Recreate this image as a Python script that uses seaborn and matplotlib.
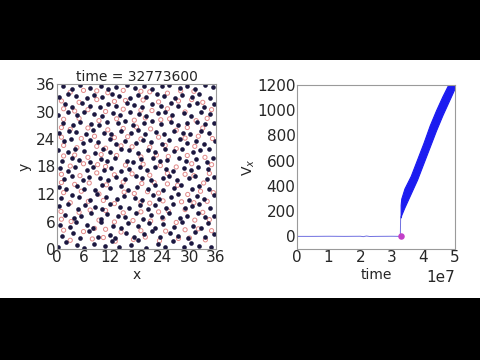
import matplotlib
matplotlib.use("Agg")
import matplotlib.pyplot as plt
import seaborn as sns
import numpy as np
from matplotlib.patches import Rectangle

# ---------------- data: particle configuration (left panel) ----------------
title_text = "time = 32773600"
box_ticks = [0, 6, 12, 18, 24, 30, 36]

dark_rows_x = [
    [0.3, 2.1, 4.6, 6.0, 8.3, 10.9, 12.4, 14.0, 16.7, 18.4, 20.1, 22.9, 24.5, 26.2, 28.8, 30.3, 32.2, 34.9],
    [1.2, 3.6, 5.1, 7.3, 9.2, 11.9, 13.2, 15.6, 17.4, 19.8, 21.5, 23.3, 25.6, 27.4, 29.7, 31.3, 33.6, 35.5],
    [0.6, 2.9, 4.3, 6.8, 8.1, 10.0, 12.7, 14.5, 16.0, 18.3, 20.9, 22.3, 24.0, 26.5, 28.2, 30.8, 32.5, 34.3],
    [1.7, 3.9, 5.5, 7.6, 9.9, 11.3, 13.8, 15.3, 17.8, 19.4, 21.3, 23.8, 25.3, 27.9, 29.5, 31.9, 33.4, 35.6],
    [0.4, 2.4, 4.8, 6.3, 8.6, 10.2, 12.0, 14.3, 16.4, 18.9, 20.5, 22.2, 24.6, 26.3, 28.9, 30.5, 32.1, 34.6],
    [1.0, 3.3, 4.9, 7.5, 9.0, 11.2, 13.6, 15.2, 17.7, 19.3, 21.7, 23.1, 25.7, 27.3, 29.9, 31.6, 33.3, 35.6],
    [0.4, 2.0, 4.6, 6.1, 8.7, 10.2, 11.9, 14.6, 16.0, 18.2, 20.7, 22.3, 24.0, 26.6, 28.1, 30.6, 32.2, 34.5],
    [1.6, 3.3, 5.9, 7.3, 9.8, 11.6, 13.4, 15.4, 17.9, 19.3, 21.2, 23.9, 25.4, 27.2, 29.8, 31.3, 33.9, 35.5],
    [0.6, 2.6, 4.1, 6.7, 8.2, 10.6, 12.2, 14.5, 16.3, 18.7, 20.4, 22.1, 24.7, 26.3, 28.8, 30.3, 32.0, 34.3],
    [1.2, 3.5, 5.0, 7.4, 9.9, 11.3, 13.2, 15.8, 17.3, 19.1, 21.8, 23.3, 25.0, 27.6, 29.2, 31.5, 33.9, 35.4],
    [0.3, 2.4, 4.0, 6.2, 8.6, 10.4, 12.1, 14.5, 16.2, 18.4, 20.5, 22.1, 24.4, 26.6, 28.2, 30.7, 32.3, 34.5],
    [1.5, 3.2, 5.8, 7.4, 9.3, 11.9, 13.4, 15.3, 17.8, 19.5, 21.3, 23.7, 25.3, 27.9, 29.5, 31.4, 33.2, 35.7],
    [0.5, 2.7, 4.3, 6.5, 8.2, 10.7, 12.3, 14.5, 16.7, 18.3, 20.0, 22.4, 24.2, 26.5, 28.6, 30.2, 32.6, 34.4],
    [1.4, 3.6, 5.3, 7.8, 9.4, 11.3, 13.8, 15.5, 17.3, 19.7, 21.4, 23.6, 25.9, 27.4, 29.5, 31.8, 33.4, 35.6],
    [0.3, 2.4, 4.6, 6.2, 8.4, 10.1, 12.6, 14.2, 16.5, 18.6, 20.2, 22.8, 24.4, 26.1, 28.7, 30.3, 32.5, 34.7],
    [1.7, 3.3, 5.7, 7.4, 9.7, 11.5, 13.3, 15.8, 17.5, 19.3, 21.6, 23.5, 25.7, 27.3, 29.9, 31.6, 33.3, 35.5],
    [0.5, 2.6, 4.2, 6.7, 8.4, 10.1, 12.4, 14.1, 16.6, 18.4, 20.1, 22.6, 24.2, 26.7, 28.3, 30.5, 32.1, 34.6],
    [1.4, 3.5, 5.3, 7.5, 9.9, 11.6, 13.4, 15.8, 17.6, 19.6, 21.5, 23.8, 25.3, 27.8, 29.5, 31.2, 33.5, 35.3],
]
dark_rows_y = [
    [0.5, 1.6, 0.9, 0.3, 1.2, 0.6, 1.8, 0.4, 0.8, 1.9, 0.3, 1.0, 0.5, 1.7, 0.4, 1.3, 0.7, 0.4],
    [2.8, 3.4, 2.4, 3.9, 2.6, 3.1, 2.5, 3.6, 2.7, 3.2, 4.0, 2.6, 3.5, 2.9, 2.5, 3.8, 2.6, 3.3],
    [5.2, 4.7, 5.9, 5.3, 4.6, 5.8, 5.0, 4.5, 5.6, 5.1, 5.7, 4.6, 5.4, 4.9, 5.9, 5.0, 4.6, 5.6],
    [7.5, 6.8, 7.3, 7.9, 6.6, 7.6, 7.1, 6.9, 7.8, 6.5, 7.4, 7.0, 7.9, 6.7, 7.2, 7.8, 6.9, 7.1],
    [9.4, 9.9, 8.8, 9.6, 9.1, 8.7, 9.8, 9.2, 8.9, 9.7, 8.8, 9.5, 9.0, 9.9, 8.9, 9.4, 9.9, 9.0],
    [11.1, 11.7, 11.4, 10.8, 11.9, 11.3, 10.9, 11.6, 11.2, 10.7, 11.8, 11.0, 11.4, 11.9, 10.8, 11.5, 11.0, 11.8],
    [13.6, 13.0, 13.8, 13.2, 12.9, 13.9, 13.3, 13.8, 12.9, 13.5, 13.1, 13.9, 12.8, 13.4, 13.9, 13.0, 13.7, 13.2],
    [15.3, 15.9, 15.1, 15.7, 15.4, 15.0, 15.8, 15.2, 15.9, 15.5, 15.0, 15.6, 15.9, 15.1, 15.6, 15.9, 15.2, 15.7],
    [17.6, 17.1, 17.9, 17.3, 17.8, 17.2, 17.7, 17.0, 17.5, 17.9, 17.2, 17.8, 17.4, 17.0, 17.7, 17.3, 17.9, 17.5],
    [19.2, 19.8, 19.5, 18.9, 19.7, 19.2, 19.9, 19.3, 18.9, 19.6, 19.9, 19.2, 19.5, 19.9, 19.1, 19.6, 19.0, 19.8],
    [21.6, 21.1, 21.9, 21.4, 21.0, 21.8, 21.2, 21.9, 21.5, 21.0, 21.6, 21.2, 21.9, 21.3, 21.8, 21.1, 21.5, 21.9],
    [23.5, 23.9, 23.1, 23.7, 23.3, 23.9, 23.0, 23.6, 23.2, 23.8, 23.4, 23.0, 23.7, 23.9, 23.2, 23.6, 23.0, 23.5],
    [25.3, 25.8, 25.5, 25.1, 25.9, 25.4, 25.0, 25.7, 25.3, 25.9, 25.1, 25.6, 25.2, 25.8, 25.4, 25.0, 25.7, 25.3],
    [27.6, 27.1, 27.8, 27.3, 27.0, 27.7, 27.4, 27.9, 27.1, 27.5, 27.9, 27.2, 27.7, 27.0, 27.6, 27.8, 27.2, 27.5],
    [29.2, 29.8, 29.3, 29.9, 29.5, 29.0, 29.7, 29.2, 29.8, 29.4, 29.0, 29.6, 29.9, 29.3, 29.7, 29.1, 29.8, 29.4],
    [31.6, 31.0, 31.8, 31.3, 30.9, 31.7, 31.2, 31.9, 31.4, 30.9, 31.6, 31.2, 31.9, 31.1, 31.5, 31.8, 31.0, 31.6],
    [33.2, 33.8, 33.4, 32.9, 33.7, 33.1, 33.9, 33.3, 32.9, 33.6, 33.2, 33.9, 33.4, 33.0, 33.7, 33.2, 33.8, 33.0],
    [35.5, 35.0, 35.7, 35.2, 35.6, 34.9, 35.4, 35.8, 35.1, 35.6, 35.0, 35.5, 35.8, 35.2, 35.6, 35.0, 35.7, 35.3],
]

pink_rows_x = [
    [3.0, 8.0, 10.5, 13.2, 17.3, 20.0, 23.2, 27.5, 30.0, 33.6],
    [1.5, 6.0, 8.5, 11.0, 14.5, 19.0, 24.6, 29.0, 32.0, 35.0],
    [1.0, 3.2, 9.5, 13.0, 17.2, 21.2, 24.0, 27.0, 31.2, 34.5],
    [0.9, 5.0, 7.5, 11.0, 15.0, 19.0, 23.0, 25.2, 29.0, 33.0],
    [3.0, 7.1, 10.5, 13.0, 19.0, 21.0, 24.0, 28.2, 31.0, 34.0],
    [1.5, 5.5, 9.5, 15.2, 17.5, 20.5, 23.0, 29.6, 32.5, 35.4],
    [1.0, 4.0, 7.3, 11.2, 15.0, 19.2, 22.0, 25.0, 27.3, 33.2],
    [1.0, 5.2, 9.0, 13.0, 17.0, 21.0, 25.0, 29.0, 31.0, 34.5],
    [3.0, 6.0, 9.2, 11.0, 15.5, 19.5, 23.4, 27.0, 30.5, 35.0],
    [1.5, 4.0, 7.0, 10.0, 13.5, 19.0, 22.5, 25.2, 29.5, 33.5],
    [1.5, 4.5, 9.0, 11.0, 14.5, 17.0, 21.0, 24.5, 27.0, 31.2],
    [1.0, 5.5, 8.5, 13.0, 16.0, 19.0, 23.0, 29.0, 32.0, 35.2],
    [1.0, 3.0, 7.0, 11.5, 15.0, 18.0, 21.2, 27.0, 29.5, 33.0],
    [1.5, 5.0, 9.5, 13.5, 17.5, 20.0, 23.5, 25.5, 31.5, 34.0],
    [1.5, 4.0, 7.0, 11.0, 15.0, 19.0, 21.5, 25.0, 29.0, 35.0],
    [1.0, 5.0, 9.0, 13.0, 15.5, 19.5, 23.0, 27.5, 30.5, 33.0],
    [3.0, 6.0, 9.0, 11.5, 15.0, 19.0, 21.0, 25.0, 28.0, 31.0],
]
pink_rows_y = [
    [1.9, 2.2, 2.5, 1.7, 2.1, 2.6, 1.8, 2.3, 2.4, 2.0],
    [4.1, 3.8, 4.5, 4.3, 3.7, 4.0, 3.9, 4.2, 4.4, 4.0],
    [6.5, 6.0, 6.3, 5.9, 6.2, 6.1, 6.6, 5.8, 6.3, 6.4],
    [8.2, 8.0, 8.5, 8.4, 7.9, 8.1, 8.1, 8.3, 8.6, 8.0],
    [10.1, 10.4, 10.6, 9.9, 10.2, 10.0, 10.5, 10.3, 10.1, 10.4],
    [12.3, 12.6, 12.0, 12.4, 12.1, 12.5, 12.2, 11.9, 12.6, 12.3],
    [14.5, 14.1, 14.4, 14.0, 14.6, 14.3, 14.5, 14.2, 13.9, 14.4],
    [16.3, 16.0, 16.6, 16.2, 16.4, 16.1, 16.5, 16.3, 16.0, 16.5],
    [18.1, 18.6, 18.4, 18.0, 18.3, 18.5, 18.2, 17.9, 18.6, 18.4],
    [20.3, 20.5, 20.0, 20.6, 20.4, 20.1, 20.5, 20.2, 20.4, 20.0],
    [22.6, 22.1, 22.4, 22.0, 22.5, 22.3, 22.2, 22.6, 21.9, 22.4],
    [24.4, 24.1, 24.6, 24.3, 24.5, 24.0, 24.4, 24.2, 24.6, 24.1],
    [26.5, 26.1, 26.4, 26.0, 26.3, 26.6, 26.2, 25.9, 26.5, 26.4],
    [28.3, 28.5, 28.0, 28.4, 28.1, 28.6, 28.2, 28.4, 28.0, 28.5],
    [30.6, 30.1, 30.4, 30.0, 30.5, 30.3, 30.2, 30.6, 29.9, 30.4],
    [32.3, 32.0, 32.6, 32.2, 32.4, 32.5, 32.1, 32.3, 32.6, 32.0],
    [34.2, 34.6, 34.5, 34.1, 34.6, 34.4, 34.3, 34.0, 34.5, 34.4],
]

# ---------------- data: V_x vs time (right panel) ----------------
flat_t = [0.0, 0.5e7, 1.0e7, 1.5e7, 2.0e7, 2.1e7, 2.2e7, 2.3e7, 2.5e7, 3.0e7, 3.27e7, 3.28e7]
flat_v = [0, 0, 1, 0, 1, -2, 3, -1, 0, 1, 0, 160]
band_t  = [3.28e7, 3.3e7, 3.4e7, 3.6e7, 3.8e7, 4.0e7, 4.2e7, 4.4e7, 4.6e7, 4.8e7, 5.0e7]
band_hi = [250, 300, 380, 480, 610, 740, 880, 1000, 1110, 1210, 1300]
band_lo = [150, 170, 230, 340, 450, 580, 710, 840, 960, 1070, 1180]
marker_t = [3.27736e7]
marker_v = [0]
time_ticks = [0, 1e7, 2e7, 3e7, 4e7, 5e7]
v_ticks = [0, 200, 400, 600, 800, 1000, 1200]

# ---------------- figure ----------------
sns.set_theme(style="white")
plt.rcParams["font.family"] = ["DejaVu Sans"]
plt.rcParams["axes.edgecolor"] = "#9a9a9a"
plt.rcParams["axes.linewidth"] = 0.8
plt.rcParams["text.color"] = "#262626"

fig = plt.figure(figsize=(4.8, 3.6), dpi=100, facecolor="black")
bg = Rectangle((0, (360 - 298) / 360), 1, (298 - 60) / 360,
               transform=fig.transFigure, facecolor="white",
               edgecolor="none", zorder=-10)
fig.patches.append(bg)

ax1 = fig.add_axes([57 / 480, (360 - 249) / 360, 159 / 480, 165 / 360])
ax2 = fig.add_axes([297 / 480, (360 - 249) / 360, 158 / 480, 164 / 360])
ax1.set_zorder(1)
ax2.set_zorder(1)

dark_x = [v for r in dark_rows_x for v in r]
dark_y = [v for r in dark_rows_y for v in r]
pink_x = [v for r in pink_rows_x for v in r]
pink_y = [v for r in pink_rows_y for v in r]

sns.scatterplot(x=pink_x, y=pink_y, ax=ax1, s=9, marker="o",
                facecolor="none", edgecolor="#dc7474", linewidth=0.7, alpha=0.85)
sns.scatterplot(x=dark_x, y=dark_y, ax=ax1, s=11, color="#1b1740",
                linewidth=0)
ax1.set_xlim(0, 36)
ax1.set_ylim(0, 36)
ax1.set_xticks(box_ticks)
ax1.set_yticks(box_ticks)
ax1.set_xlabel("x", fontsize=10, labelpad=2)
ax1.set_ylabel("y", fontsize=10, labelpad=3)
ax1.set_title(title_text, fontsize=10, pad=2)

sns.lineplot(x=flat_t, y=flat_v, ax=ax2, color="#6f6fe0", linewidth=0.7,
             sort=False, estimator=None)
ax2.fill_between(band_t, band_lo, band_hi, color="#1c1cf0", linewidth=0.8,
                 edgecolor="#1c1cf0")
sns.scatterplot(x=marker_t, y=marker_v, ax=ax2, s=22, color="#c23fc8",
                linewidth=0, zorder=5)
ax2.set_xlim(0, 5e7)
ax2.set_ylim(-100, 1200)
ax2.set_xticks(time_ticks)
ax2.set_yticks(v_ticks)
ax2.set_xlabel("time", fontsize=10, labelpad=2)
ax2.set_ylabel("V$_x$", fontsize=10, labelpad=0)

for ax in (ax1, ax2):
    ax.tick_params(length=0, pad=1, labelsize=11, colors="#262626")
    ax.set_facecolor("white")
    for sp in ax.spines.values():
        sp.set_color("#9a9a9a")
ax2.xaxis.get_offset_text().set_fontsize(11)

fig.savefig("out.png", dpi=100, facecolor="black")
